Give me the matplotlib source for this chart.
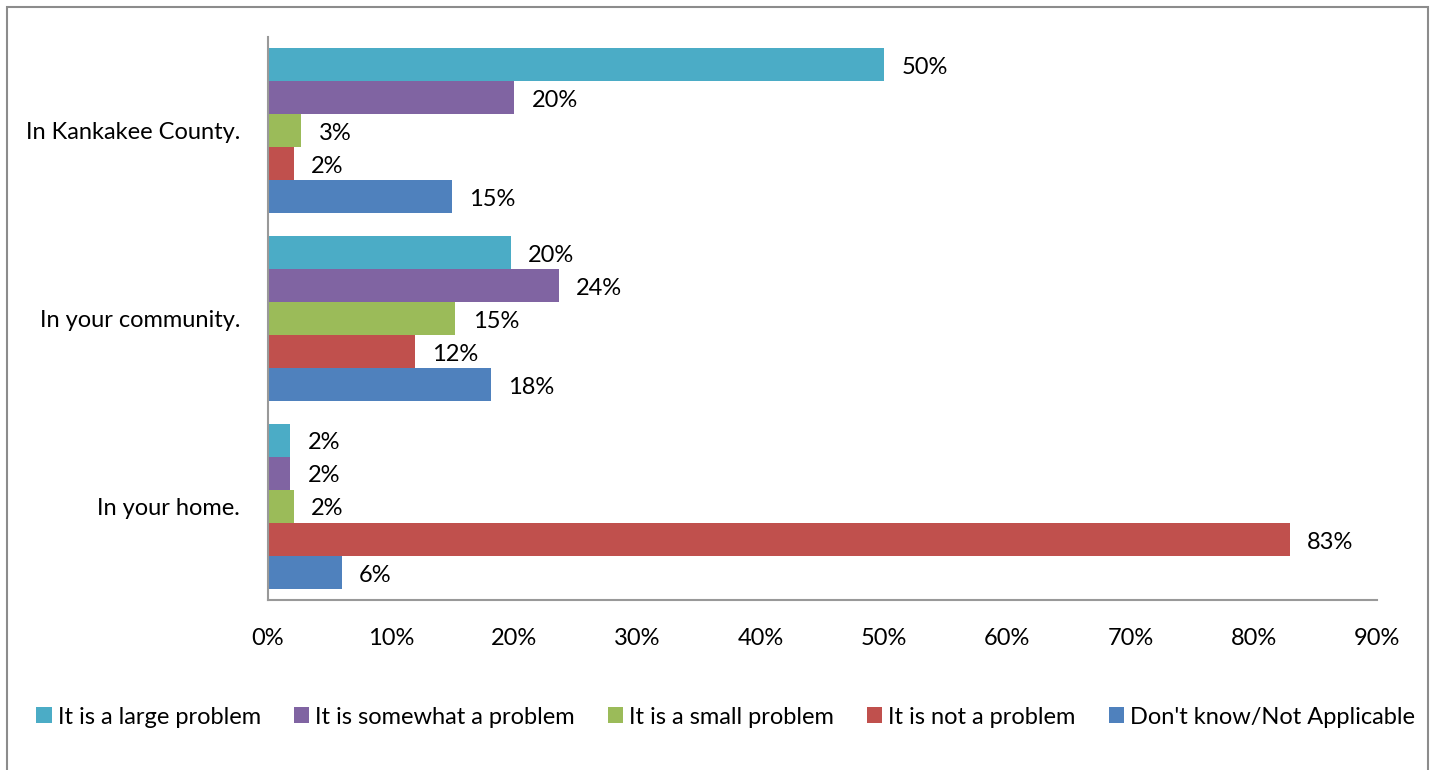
import numpy as np
import matplotlib
matplotlib.use("Agg")
import matplotlib.pyplot as plt
from matplotlib.patches import Rectangle

plt.rcParams['font.family'] = ['Lato', 'DejaVu Sans']

# Datos
categorias = ["In your home.", "In your community.", "In Kankakee County."]
series = ["It is a large problem", "It is somewhat a problem", "It is a small problem",
          "It is not a problem", "Don't know/Not Applicable"]
colores = ["#4BACC6", "#8064A2", "#9BBB59", "#C0504D", "#4F81BD"]

grande = [1.8, 19.7, 50.0]
algo = [1.8, 23.6, 20.0]
pequeno = [2.1, 15.2, 2.7]
no_problema = [82.9, 11.9, 2.1]
no_sabe = [6.0, 18.1, 14.9]
valores = [grande, algo, pequeno, no_problema, no_sabe]

fig = plt.figure(figsize=(14.37, 7.70), dpi=100)
ax = fig.add_axes([268/1437, 1 - 600/770, (1377 - 268)/1437, (600 - 37)/770])

y = np.arange(len(categorias))
alto = 0.176
for i, (nombre, vals, color) in enumerate(zip(series, valores, colores)):
    pos = y + (2 - i) * alto
    ax.barh(pos, vals, height=alto, color=color, label=nombre)
    for p, v in zip(pos, vals):
        ax.text(v + 1.4, p - 0.015, f"{v:.0f}%", va="center", ha="left", fontsize=17)

ax.set_xlim(0, 90)
ax.set_ylim(-0.5, 2.5)
ax.set_xticks(range(0, 91, 10))
ax.set_xticklabels([f"{t}%" for t in range(0, 91, 10)], fontsize=17)
ax.set_yticks(y)
ax.set_yticklabels(categorias, fontsize=17)
ax.tick_params(length=0)
ax.tick_params(axis="x", pad=20)
ax.tick_params(axis="y", pad=20)
for s in ["top", "right"]:
    ax.spines[s].set_visible(False)
for s in ["left", "bottom"]:
    ax.spines[s].set_color("#999999")
    ax.spines[s].set_linewidth(1.5)

fig.legend(loc="center", bbox_to_anchor=(0.505, 1 - 717/770), ncol=5, frameon=False,
           fontsize=17, handlelength=0.65, handleheight=0.65, handletextpad=0.25,
           columnspacing=1.4)

fig.patches.append(Rectangle((7/1437, -0.01), (1428 - 7)/1437, 1 - 7/770 + 0.01,
                             transform=fig.transFigure, fill=False,
                             edgecolor="#8c8c8c", linewidth=1.5))

fig.savefig("out.png", dpi=100)
